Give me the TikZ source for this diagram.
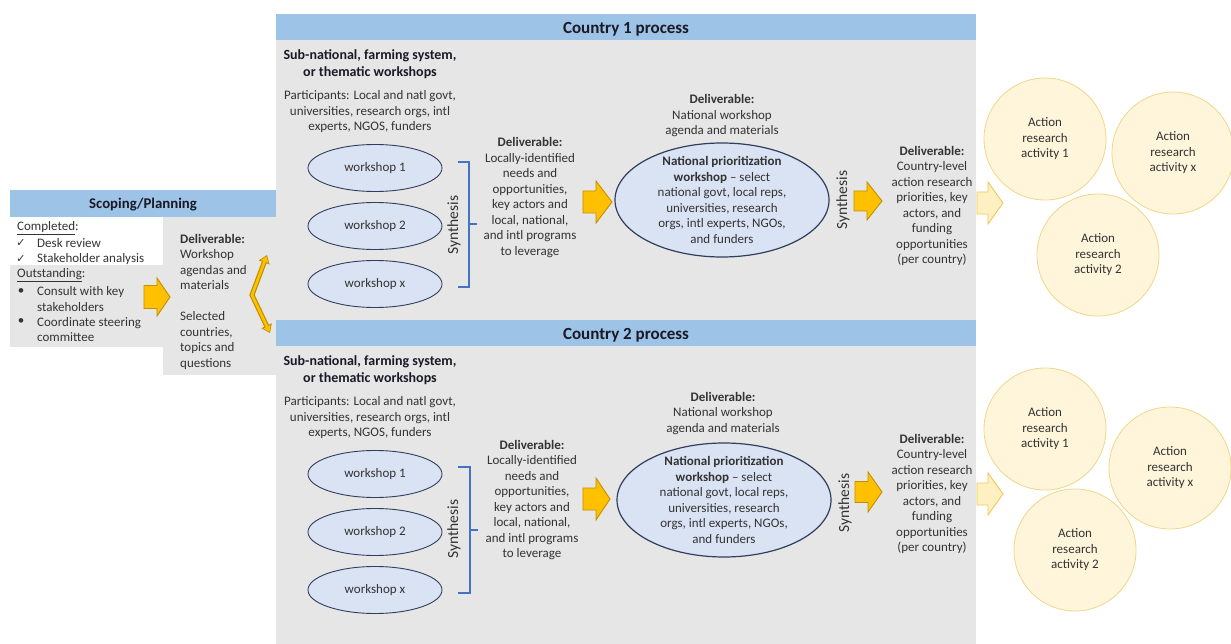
\documentclass[tikz,border=0pt]{standalone}
\usepackage{fontspec}
\setmainfont{Carlito}
\newfontfamily\dejavu{DejaVu Sans}
\usetikzlibrary{shapes.geometric,arrows.meta}
\definecolor{hdrblue}{HTML}{9DC3E6}
\definecolor{panelgray}{HTML}{E7E6E6}
\definecolor{ellfill}{HTML}{DAE3F3}
\definecolor{elldraw}{HTML}{2F3E5C}
\definecolor{orfill}{HTML}{FFC000}
\definecolor{ordraw}{HTML}{BF9000}
\definecolor{palefill}{HTML}{FFF0C2}
\definecolor{paledraw}{HTML}{EDC95A}
\definecolor{circfill}{HTML}{FFF5DA}
\definecolor{circdraw}{HTML}{EFD78A}
\definecolor{brblue}{HTML}{4472C4}
\definecolor{txtgray}{HTML}{333333}
\definecolor{hdrtxt}{HTML}{1A1A26}
\newcommand\blkarrow[7]{\draw[#7] ({#1},{#2-#5}) -- ({#6},{#2-#5}) -- ({#6},{#2-#4}) -- ({#3},{#2}) -- ({#6},{#2+#4}) -- ({#6},{#2+#5}) -- ({#1},{#2+#5}) -- cycle;}
\tikzset{
  txt/.style={font=\fontsize{13}{15.5}\selectfont, text=txtgray, inner sep=0pt, align=center},
  hdrbox/.style={fill=hdrblue, inner sep=0pt},
  hdrtext/.style={inner sep=0pt, font=\fontsize{17}{19}\selectfont\bfseries, text=hdrtxt},
  subtitle/.style={txt, font=\fontsize{14}{16.5}\selectfont\bfseries, text=hdrtxt},
  synth/.style={font=\fontsize{15.5}{17}\selectfont, text=txtgray, inner sep=0pt, rotate=90},
  wsell/.style={ellipse, draw=elldraw, fill=ellfill, line width=0.9pt, minimum width=134pt, minimum height=47pt, inner sep=0pt, font=\fontsize{13}{15.5}\selectfont, text=txtgray},
  bigell/.style={ellipse, draw=elldraw, fill=ellfill, line width=1.2pt, minimum width=214pt, minimum height=114pt, inner sep=0pt},
  actcirc/.style={circle, draw=circdraw, fill=circfill, line width=0.8pt, minimum size=122pt, inner sep=0pt, font=\fontsize{13}{15.5}\selectfont, text=txtgray, align=center},
  orarrow/.style={fill=orfill, draw=ordraw, line width=0.9pt, line join=miter},
  palearrow/.style={fill=palefill, draw=paledraw, line width=0.9pt, line join=miter},
  bracketline/.style={draw=brblue, line width=1.3pt},
  chk/.style={txt, font=\dejavu\fontsize{11}{12}\selectfont}
}
\begin{document}
\begin{tikzpicture}[x=1pt,y=-1pt]
\useasboundingbox (0,0) rectangle (1231,644);
\fill[white] (0,0) rectangle (1231,644);

% ---------- Scoping / planning ----------
\fill[panelgray] (163,216) rectangle (276,375);
\fill[panelgray] (10,265) rectangle (163,347);
\node[hdrbox, minimum width=266pt, minimum height=27pt] (scope) at (143,203.5) {};
\node[hdrtext, font=\fontsize{14.8}{17}\selectfont\bfseries] (scopet) at (143,205) {Scoping/Planning};
\node[txt, anchor=west] (comp) at (17,228) {\underline{Completed}:};
\node[chk] (ck1) at (21,243) {✓};
\node[txt, anchor=west] (desk) at (37,243) {Desk review};
\node[chk] (ck2) at (21,259) {✓};
\node[txt, anchor=west] (stake) at (37,259) {Stakeholder analysis};
\node[txt, anchor=west] (outst) at (17,275) {\underline{Outstanding}:};
\node[txt] (bu1) at (21,292) {\textbullet};
\node[txt, anchor=west, align=left] (consult) at (37,299) {Consult with key\\stakeholders};
\node[txt] (bu2) at (21,322) {\textbullet};
\node[txt, anchor=west, align=left] (coord) at (37,329.5) {Coordinate steering\\committee};
\node[txt, anchor=west, align=left] (sdel) at (180,301.5) {\textbf{Deliverable:}\\Workshop\\agendas and\\materials\\[15.5pt]Selected\\countries,\\topics and\\questions};
\blkarrow{144}{297}{170}{19}{11.5}{157}{orarrow}
% chevron double arrow
\coordinate (chtop) at (267,255);
\coordinate (chtip) at (252,295);
\coordinate (chbot) at (270,333);
\draw[draw=ordraw, line width=5pt, line join=miter, {Triangle[length=8pt,width=11pt]}-{Triangle[length=8pt,width=11pt]}] (chtop) -- (chtip) -- (chbot);
\draw[draw=orfill, line width=2.6pt, line join=miter, shorten <=1.4pt, shorten >=1.4pt, {Triangle[length=5.5pt,width=7.5pt]}-{Triangle[length=5.5pt,width=7.5pt]}] (chtop) -- (chtip) -- (chbot);

% ---------- Country 1 ----------
\fill[panelgray] (276,40) rectangle (976,320);
\node[hdrbox, minimum width=700pt, minimum height=26pt] (c1h) at (626,27) {};
\node[hdrtext] (c1ht) at (626,29.5) {Country 1 process};
\node[subtitle] (c1sub) at (370,64) {Sub-national, farming system,\\or thematic workshops};
\node[txt] (c1part) at (370,112) {Participants: Local and natl govt,\\universities, research orgs, intl\\experts, NGOS, funders};
\node[wsell] (c1w1) at (375,168) {workshop 1};
\node[wsell] (c1w2) at (375,226) {workshop 2};
\node[wsell] (c1wx) at (375,284) {workshop x};
\draw[bracketline] (458,162) -- (469,162) -- (469,287) -- (458,287);
\draw[bracketline] (469,224) -- (477,224);
\node[synth] (c1syn1) at (454,225) {Synthesis};
\node[txt] (c1del1) at (530,197.5) {\textbf{Deliverable:}\\Locally-identified\\needs and\\opportunities,\\key actors and\\local, national,\\and intl programs\\to leverage};
\blkarrow{583}{202}{612}{21}{11}{596}{orarrow}
\node[txt] (c1del2) at (722,116) {\textbf{Deliverable:}\\National workshop\\agenda and materials};
\node[bigell] (c1nat) at (722,200) {};
\node[txt] (c1natt) at (c1nat) {\textbf{National prioritization}\\\textbf{workshop} – select\\national govt, local reps,\\universities, research\\orgs, intl experts, NGOs,\\and funders};
\node[synth] (c1syn2) at (843,200) {Synthesis};
\blkarrow{854}{201}{882}{19}{10}{867}{orarrow}
\node[txt] (c1del3) at (932,206) {\textbf{Deliverable:}\\Country-level\\action research\\priorities, key\\actors, and\\funding\\opportunities\\(per country)};
\blkarrow{977}{203}{1003}{21}{11}{988}{palearrow}
\node[actcirc] (c1a1) at (1045,139) {Action\\research\\activity 1};
\node[actcirc] (c1ax) at (1173,153) {Action\\research\\activity x};
\node[actcirc] (c1a2) at (1098,255) {Action\\research\\activity 2};

% ---------- Country 2 ----------
\fill[panelgray] (276,346) rectangle (976,644);
\node[hdrbox, minimum width=700pt, minimum height=26pt] (c2h) at (626,333) {};
\node[hdrtext] (c2ht) at (626,335.5) {Country 2 process};
\node[subtitle] (c2sub) at (370,370) {Sub-national, farming system,\\or thematic workshops};
\node[txt] (c2part) at (370,418) {Participants: Local and natl govt,\\universities, research orgs, intl\\experts, NGOS, funders};
\node[wsell] (c2w1) at (375,474) {workshop 1};
\node[wsell] (c2w2) at (375,532) {workshop 2};
\node[wsell] (c2wx) at (375,590) {workshop x};
\draw[bracketline] (458,467) -- (470,467) -- (470,593) -- (458,593);
\draw[bracketline] (470,530) -- (478,530);
\node[synth] (c2syn1) at (454,529) {Synthesis};
\node[txt] (c2del1) at (532,500) {\textbf{Deliverable:}\\Locally-identified\\needs and\\opportunities,\\key actors and\\local, national,\\and intl programs\\to leverage};
\blkarrow{583}{499}{610}{21}{11}{596}{orarrow}
\node[txt] (c2del2) at (723,413.5) {\textbf{Deliverable:}\\National workshop\\agenda and materials};
\node[bigell] (c2nat) at (724,500) {};
\node[txt] (c2natt) at (c2nat) {\textbf{National prioritization}\\\textbf{workshop} – select\\national govt, local reps,\\universities, research\\orgs, intl experts, NGOs,\\and funders};
\node[synth] (c2syn2) at (845,503) {Synthesis};
\blkarrow{855}{492}{882}{20}{10.5}{868}{orarrow}
\node[txt] (c2del3) at (932,494) {\textbf{Deliverable:}\\Country-level\\action research\\priorities, key\\actors, and\\funding\\opportunities\\(per country)};
\blkarrow{977}{494}{1003}{21}{11}{988}{palearrow}
\node[actcirc] (c2a1) at (1045,429) {Action\\research\\activity 1};
\node[actcirc] (c2ax) at (1170,468) {Action\\research\\activity x};
\node[actcirc] (c2a2) at (1075,550) {Action\\research\\activity 2};
\end{tikzpicture}
\end{document}
